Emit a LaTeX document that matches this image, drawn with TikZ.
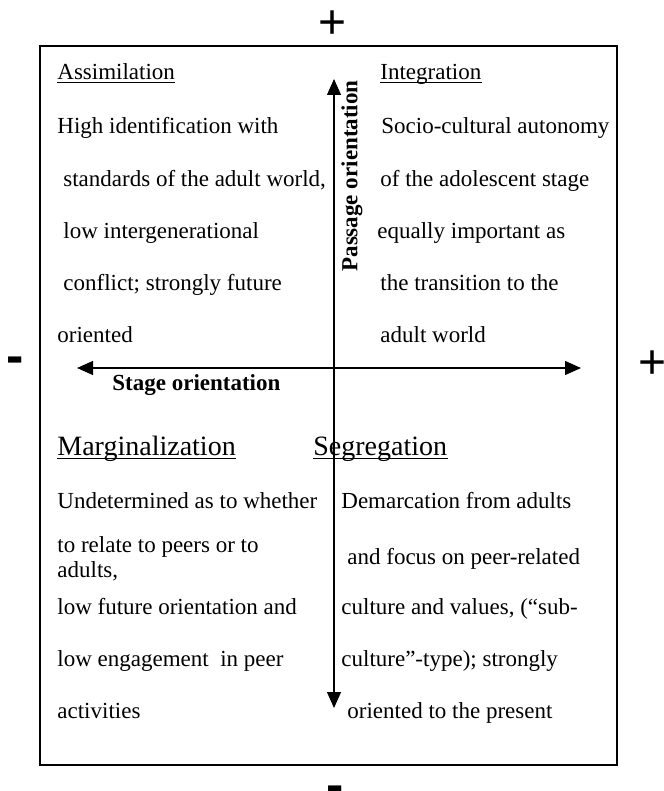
\documentclass[tikz,border=0pt]{standalone}
\usepackage{fontspec}
\setmainfont{Liberation Serif}
\newfontfamily\signfont{Liberation Sans}
\usetikzlibrary{arrows.meta}

\tikzset{
  txt/.style={anchor=base west, inner sep=0pt, font=\fontsize{11.5}{13.8}\selectfont},
  bigtxt/.style={anchor=base west, inner sep=0pt, font=\fontsize{14}{16.8}\selectfont},
  axislabel/.style={inner sep=0pt, font=\fontsize{11.5}{13.8}\selectfont\bfseries},
  sign/.style={anchor=base, inner sep=0pt, font=\signfont\fontsize{24}{28}\selectfont},
  minussign/.style={sign, font=\signfont\bfseries\fontsize{26}{30}\selectfont},
  frame/.style={draw=black, line width=0.6pt},
  axis/.style={line width=0.55pt, {Triangle[length=8pt,width=7pt]}-{Triangle[length=8pt,width=7pt]}},
  uline/.style={line width=0.5pt}
}
% heading text with a rule under its baseline
\newcommand{\headline}[4][txt]{%
  \node[#1] (#2) at (#3) {#4};
  \draw[uline] ([yshift=-1.5pt]#2.base west) -- ([yshift=-1.5pt]#2.base east);
}

\begin{document}
\begin{tikzpicture}[x=0.5pt, y=-0.5pt]
  \useasboundingbox (0,0) rectangle (663,791);

  % outer frame
  \draw[frame] (40,46) rectangle (617,765);

  % axes
  \coordinate (vtop) at (334,79);
  \coordinate (vbot) at (334,708);
  \coordinate (hleft) at (77,368);
  \coordinate (hright) at (581,368);
  \draw[axis] (vbot) -- (vtop);
  \draw[axis] (hleft) -- (hright);

  % pole signs
  \node[sign] (plustop) at (333,39) {+};
  \node[minussign] (minusbot) at (335,802) {-};
  \node[minussign] (minusleft) at (15,373) {-};
  \node[sign] (plusright) at (653,378) {+};

  % axis labels
  \node[axislabel, rotate=90] (passage) at (352,176) {Passage orientation};
  \node[axislabel, anchor=base west] (stage) at (112,390) {Stage orientation};

  % upper left: assimilation
  \headline{assim}{57,80}{Assimilation}
  \node[txt] (tl1) at (57,134) {High identification with};
  \node[txt] (tl2) at (63,186) {standards of the adult world,};
  \node[txt] (tl3) at (63,238) {low intergenerational};
  \node[txt] (tl4) at (63,290) {conflict; strongly future};
  \node[txt] (tl5) at (57,342) {oriented};

  % upper right: integration
  \headline{integ}{380,80}{Integration}
  \node[txt] (tr1) at (381,134) {Socio-cultural autonomy};
  \node[txt] (tr2) at (380,186) {of the adolescent stage};
  \node[txt] (tr3) at (377,238) {equally important as};
  \node[txt] (tr4) at (380,290) {the transition to the};
  \node[txt] (tr5) at (380,342) {adult world};

  % lower left: marginalization
  \headline[bigtxt]{margin}{57,455}{Marginalization}
  \node[txt] (bl1) at (57,508) {Undetermined as to whether};
  \node[txt] (bl2) at (57,552) {to relate to peers or to};
  \node[txt] (bl3) at (57,577) {adults,};
  \node[txt] (bl4) at (57,614) {low future orientation and};
  \node[txt] (bl5) at (57,666) {low engagement\ \ in peer};
  \node[txt] (bl6) at (57,718) {activities};

  % lower right: segregation
  \headline[bigtxt]{segreg}{313,455}{Segregation}
  \node[txt] (br1) at (341,508) {Demarcation from adults};
  \node[txt] (br2) at (347,564) {and focus on peer-related};
  \node[txt] (br3) at (341,614) {culture and values, (“sub-};
  \node[txt] (br4) at (341,666) {culture”-type); strongly};
  \node[txt] (br5) at (347,718) {oriented to the present};
\end{tikzpicture}
\end{document}
